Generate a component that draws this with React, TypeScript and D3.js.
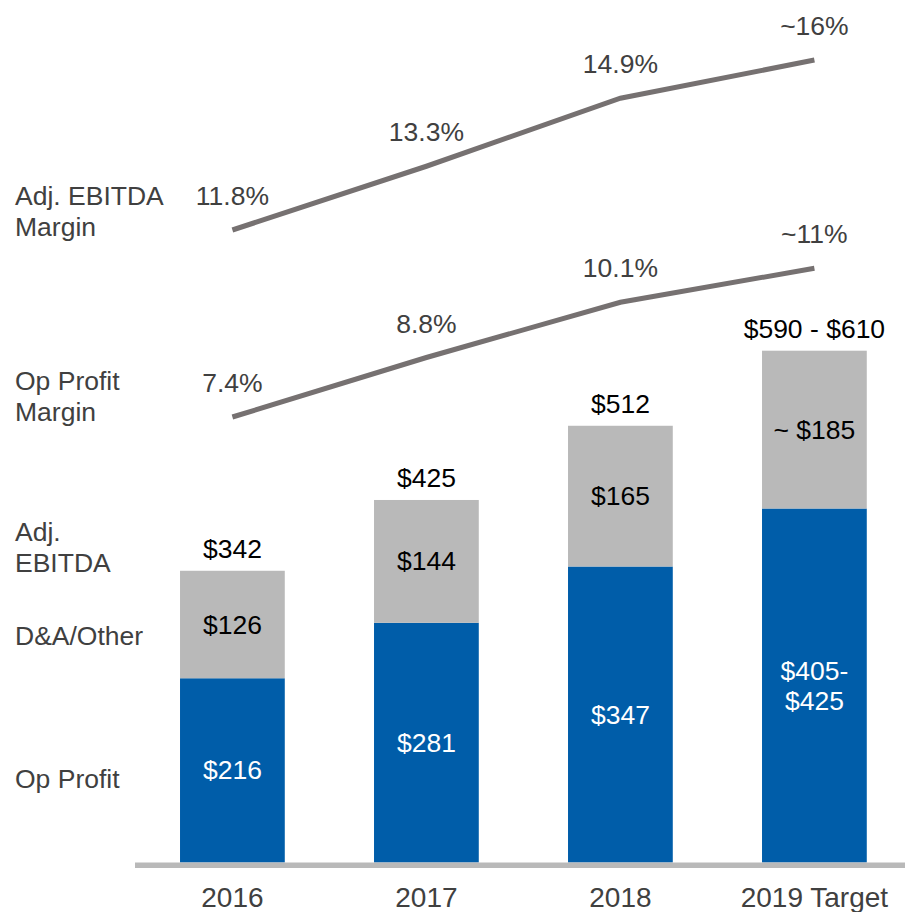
import React from 'react';
import * as d3 from 'd3';

// values
const years = ['2016', '2017', '2018', '2019 Target'];
const opProfit = [216, 281, 347, 415];
const daOther = [126, 144, 165, 185];
const opLabels = [['$216'], ['$281'], ['$347'], ['$405-', '$425']];
const daLabels = ['$126', '$144', '$165', '~ $185'];
const totalLabels = ['$342', '$425', '$512', '$590 - $610'];

const ebitdaMargin = [11.8, 13.3, 14.9, 15.8];
const ebitdaMarginLabels = ['11.8%', '13.3%', '14.9%', '~16%'];
const opMargin = [7.4, 8.8, 10.1, 10.9];
const opMarginLabels = ['7.4%', '8.8%', '10.1%', '~11%'];

const rowLabels = [
  { lines: ['Adj. EBITDA', 'Margin'], y: 205 },
  { lines: ['Op Profit', 'Margin'], y: 390 },
  { lines: ['Adj.', 'EBITDA'], y: 541 },
  { lines: ['D&A/Other'], y: 645 },
  { lines: ['Op Profit'], y: 788 },
];

const W = 905;
const H = 912;
const BLUE = '#005DA9';
const GREY = '#B9B9B9';
const LINE = '#767171';
const TEXT = '#404040';
const FONT = 'Arial, "Liberation Sans", sans-serif';
const FS = 26.5;

export default function App() {
  const baseline = 862.5;
  const x = d3.scaleBand<string>().domain(years).range([135.4, 911.4]).paddingInner(0.46).paddingOuter(0.23);
  const y = d3.scaleLinear().domain([0, 600]).range([baseline, baseline - 600 * 0.853]);
  const m = d3.scaleLinear().domain([7.4, 11.8]).range([417, 230]);
  const cx = (d: string) => (x(d) ?? 0) + x.bandwidth() / 2;

  const line = d3
    .line<number>()
    .x((_, i) => cx(years[i]))
    .y((v) => m(v));

  const margins = [
    { vals: ebitdaMargin, labels: ebitdaMarginLabels },
    { vals: opMargin, labels: opMarginLabels },
  ];

  return (
    <svg width={W} height={H} style={{ position: 'absolute', left: 0, top: 0 }} fontFamily={FONT}>
      <rect width={W} height={H} fill="#fff" />

      {rowLabels.map((r, i) => (
        <text key={i} x={15} y={r.y} fontSize={FS} fill={TEXT}>
          {r.lines.map((l, j) => (
            <tspan key={j} x={15} dy={j === 0 ? 0 : 31}>
              {l}
            </tspan>
          ))}
        </text>
      ))}

      {margins.map((s, k) => (
        <g key={k}>
          <path d={line(s.vals) ?? ''} fill="none" stroke={LINE} strokeWidth={5} />
          {s.vals.map((v, i) => (
            <text key={i} x={cx(years[i])} y={m(v) - 25} fontSize={FS} fill={TEXT} textAnchor="middle">
              {s.labels[i]}
            </text>
          ))}
        </g>
      ))}

      {years.map((yr, i) => {
        const x0 = x(yr) ?? 0;
        const total = opProfit[i] + daOther[i];
        const opMid = (y(0) + y(opProfit[i])) / 2;
        const daMid = (y(opProfit[i]) + y(total)) / 2;
        const ol = opLabels[i];
        return (
          <g key={yr}>
            <rect x={x0} y={y(opProfit[i])} width={x.bandwidth()} height={y(0) - y(opProfit[i])} fill={BLUE} />
            <rect x={x0} y={y(total)} width={x.bandwidth()} height={y(opProfit[i]) - y(total)} fill={GREY} />
            <text x={cx(yr)} y={opMid - ((ol.length - 1) * 30) / 2 + 9} fontSize={FS} fill="#fff" textAnchor="middle">
              {ol.map((l, j) => (
                <tspan key={j} x={cx(yr)} dy={j === 0 ? 0 : 30}>
                  {l}
                </tspan>
              ))}
            </text>
            <text x={cx(yr)} y={daMid + 9} fontSize={FS} fill="#000" textAnchor="middle">
              {daLabels[i]}
            </text>
            <text x={cx(yr)} y={y(total) - 13} fontSize={FS} fill="#000" textAnchor="middle">
              {totalLabels[i]}
            </text>
            <text x={cx(yr)} y={907} fontSize={28} fill={TEXT} textAnchor="middle">
              {yr}
            </text>
          </g>
        );
      })}

      <line x1={135} x2={W} y1={baseline + 2.75} y2={baseline + 2.75} stroke={GREY} strokeWidth={5.5} />
    </svg>
  );
}
